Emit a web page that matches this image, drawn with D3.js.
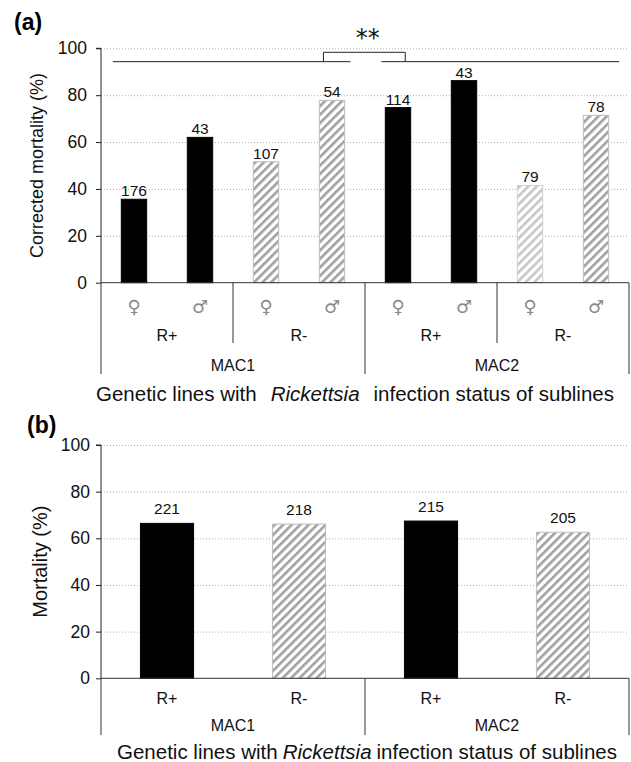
<!DOCTYPE html>
<html>
<head>
<meta charset="utf-8">
<script src="https://cdn.jsdelivr.net/npm/d3@7"></script>
<style>
  body { margin: 0; background: #fff; }
  svg { display: block; font-family: Arial, "Liberation Sans", sans-serif; }
</style>
</head>
<body>
<div id="chart"></div>
<script>
// panel (a): corrected mortality by line, infection status and sex
const linesA = ["MAC1", "MAC1", "MAC1", "MAC1", "MAC2", "MAC2", "MAC2", "MAC2"];
const statusA = ["R+", "R+", "R-", "R-", "R+", "R+", "R-", "R-"];
const sexA = ["♀", "♂", "♀", "♂", "♀", "♂", "♀", "♂"];
const mortalityA = [35.6, 62.0, 51.6, 77.8, 74.7, 86.2, 41.5, 71.4];
const countsA = [176, 43, 107, 54, 114, 43, 79, 78];

// panel (b): mortality by line and infection status
const linesB = ["MAC1", "MAC1", "MAC2", "MAC2"];
const statusB = ["R+", "R-", "R+", "R-"];
const mortalityB = [66.4, 66.1, 67.4, 62.6];
const countsB = [221, 218, 215, 205];

const yTicks = [0, 20, 40, 60, 80, 100];

const W = 631, H = 762;
const x0 = 101, x1 = 629;

const svg = d3.select("#chart").append("svg")
    .attr("width", W)
    .attr("height", H);

// hatch patterns
const defs = svg.append("defs");
function hatch(id, color) {
    const p = defs.append("pattern")
        .attr("id", id)
        .attr("patternUnits", "userSpaceOnUse")
        .attr("width", 6).attr("height", 6)
        .attr("patternTransform", "rotate(45)");
    p.append("rect").attr("width", 6).attr("height", 6).attr("fill", "#fff");
    p.append("rect").attr("x", 0).attr("width", 2.6).attr("height", 6).attr("fill", color);
}
hatch("hatch", "#a0a0a0");
hatch("hatchLight", "#c6c6c6");

function barFill(d) {
    if (d.status === "R+") return "#000";
    return d.light ? "url(#hatchLight)" : "url(#hatch)";
}
function barStroke(d) {
    if (d.status === "R+") return "#000";
    return d.light ? "#d0d0d0" : "#bdbdbd";
}

function drawPanel(opt) {
    const g = svg.append("g");
    const data = opt.values.map((v, i) => ({
        i: i, v: v, n: opt.counts[i], status: opt.status[i], line: opt.lines[i],
        sex: opt.sex ? opt.sex[i] : null,
        light: opt.lines[i] === "MAC2" && opt.status[i] === "R-" && opt.sex && opt.sex[i] === "♀"
    }));

    const x = d3.scaleBand()
        .domain(d3.range(data.length))
        .range([x0, x1])
        .paddingInner(opt.padIn)
        .paddingOuter(opt.padIn / 2);

    const y = d3.scaleLinear().domain([0, 100]).range([opt.yBottom, opt.yTop]);

    // dotted grid
    g.append("g")
        .attr("transform", `translate(${x0},0)`)
        .call(d3.axisLeft(y).tickValues(yTicks.filter(t => t > 0)).tickSize(-(x1 - x0)).tickFormat(""))
        .call(a => a.select(".domain").remove())
        .call(a => a.selectAll("line").attr("stroke", "#b0b0b0").attr("stroke-dasharray", "1,2"));

    // bars
    g.selectAll("rect.bar").data(data).join("rect")
        .attr("class", "bar")
        .attr("x", d => x(d.i) + 0.5)
        .attr("y", d => y(d.v))
        .attr("width", x.bandwidth() - 1)
        .attr("height", d => y(0) - y(d.v))
        .attr("fill", barFill)
        .attr("stroke", barStroke)
        .attr("stroke-width", 1);

    // counts above bars
    g.selectAll("text.count").data(data).join("text")
        .attr("class", "count")
        .attr("x", d => x(d.i) + x.bandwidth() / 2)
        .attr("y", d => y(d.v) - opt.countGap)
        .attr("text-anchor", "middle")
        .attr("font-size", 15.5)
        .attr("fill", "#111")
        .text(d => d.n);

    // y axis
    const ya = g.append("g")
        .attr("transform", `translate(${x0},0)`)
        .call(d3.axisLeft(y).tickValues(yTicks).tickSize(5).tickPadding(opt.tickPad));
    ya.select(".domain").attr("stroke", "#222").attr("d", `M-5,${y(100)}H0V${y(0)}`);
    ya.selectAll("line").attr("stroke", "#222");
    ya.selectAll("text").attr("font-size", 17.5).attr("fill", "#111").attr("font-family", "Arial, 'Liberation Sans', sans-serif");

    // baseline
    g.append("line")
        .attr("x1", x0).attr("x2", x1)
        .attr("y1", y(0)).attr("y2", y(0))
        .attr("stroke", "#333");

    // category axis: group separators
    const groups = d3.groups(data, d => d.line);
    const sepColor = "#333";
    const lineEdges = [x0];
    groups.forEach(([name, rows]) => {
        const last = rows[rows.length - 1];
        lineEdges.push(x(last.i) + x.bandwidth() + x.step() * x.paddingInner() / 2);
    });
    lineEdges[lineEdges.length - 1] = x1;
    g.selectAll("line.linesep").data(lineEdges).join("line")
        .attr("class", "linesep")
        .attr("x1", d => d).attr("x2", d => d)
        .attr("y1", y(0)).attr("y2", opt.lineSepBottom)
        .attr("stroke", sepColor);

    // status separators (only when sex level exists)
    if (opt.sex) {
        const statusEdges = [];
        groups.forEach(([name, rows]) => {
            const sub = d3.groups(rows, d => d.status);
            const firstEnd = sub[0][1][sub[0][1].length - 1];
            statusEdges.push(x(firstEnd.i) + x.bandwidth() + x.step() * x.paddingInner() / 2);
        });
        g.selectAll("line.statsep").data(statusEdges).join("line")
            .attr("class", "statsep")
            .attr("x1", d => d).attr("x2", d => d)
            .attr("y1", y(0)).attr("y2", opt.statusSepBottom)
            .attr("stroke", sepColor);

        g.selectAll("text.sex").data(data).join("text")
            .attr("class", "sex")
            .attr("x", d => x(d.i) + x.bandwidth() / 2)
            .attr("y", opt.sexY)
            .attr("text-anchor", "middle")
            .attr("font-family", "'DejaVu Sans', sans-serif")
            .attr("font-size", 18)
            .attr("fill", "#8a8a8a")
            .text(d => d.sex);
    }

    // status labels
    const statusLabels = [];
    groups.forEach(([name, rows]) => {
        d3.groups(rows, d => d.status).forEach(([s, r]) => {
            statusLabels.push({ s: s, cx: (x(r[0].i) + x(r[r.length - 1].i) + x.bandwidth()) / 2 });
        });
    });
    g.selectAll("text.status").data(statusLabels).join("text")
        .attr("class", "status")
        .attr("x", d => d.cx)
        .attr("y", opt.statusY)
        .attr("text-anchor", "middle")
        .attr("font-size", 16)
        .attr("fill", "#111")
        .text(d => d.s);

    // line labels
    g.selectAll("text.line").data(groups).join("text")
        .attr("class", "line")
        .attr("x", (d, k) => (lineEdges[k] + lineEdges[k + 1]) / 2)
        .attr("y", opt.lineY)
        .attr("text-anchor", "middle")
        .attr("font-size", 16)
        .attr("fill", "#111")
        .text(d => d[0]);

    // x title
    const t = g.append("text")
        .attr("x", opt.titleX)
        .attr("y", opt.titleY)
        .attr("font-size", 20.5)
        .attr("fill", "#111");
    t.append("tspan").text("Genetic lines with");
    t.append("tspan").attr("dx", opt.titleGap).attr("font-style", "italic").text("Rickettsia");
    t.append("tspan").attr("dx", opt.titleGap).text("infection status of sublines");

    // y title
    g.append("text")
        .attr("transform", `translate(${opt.yTitleX},${(y(0) + y(100)) / 2}) rotate(-90)`)
        .attr("text-anchor", "middle")
        .attr("dominant-baseline", "central")
        .attr("font-size", opt.yTitleSize)
        .attr("fill", "#111")
        .text(opt.yTitle);

    // panel letter
    g.append("text")
        .attr("x", opt.letterX)
        .attr("y", opt.letterY)
        .attr("font-size", 23)
        .attr("font-weight", "bold")
        .attr("fill", "#000")
        .text(opt.letter);

    return { g: g, x: x, y: y };
}

const pa = drawPanel({
    values: mortalityA, counts: countsA, status: statusA, lines: linesA, sex: sexA,
    padIn: 0.6, yTop: 48.3, yBottom: 282.7, countGap: 3, tickPad: 9,
    lineSepBottom: 374, statusSepBottom: 343, sexY: 313, statusY: 341, lineY: 371,
    titleX: 96, titleY: 401, titleGap: 14,
    yTitleX: 37, yTitleSize: 18, yTitle: "Corrected mortality (%)",
    letter: "(a)", letterX: 14, letterY: 30
});

drawPanel({
    values: mortalityB, counts: countsB, status: statusB, lines: linesB, sex: null,
    padIn: 0.59, yTop: 445, yBottom: 678.3, countGap: 9, tickPad: 6,
    lineSepBottom: 735, sexY: 0, statusY: 704, lineY: 731,
    titleX: 117, titleY: 759, titleGap: 5,
    yTitleX: 40, yTitleSize: 20, yTitle: "Mortality (%)",
    letter: "(b)", letterX: 27, letterY: 433
});

// significance annotation over panel (a)
const sigLine = 94.3, sigTop = 98.3, sigStar = 104.3;
const xi = d3.scaleLinear().domain([0, 8]).range([x0, x1]);
const ann = pa.g.append("g").attr("stroke", "#222").attr("fill", "none");
ann.append("line").attr("x1", xi(0.18)).attr("x2", xi(3.78)).attr("y1", pa.y(sigLine)).attr("y2", pa.y(sigLine));
ann.append("line").attr("x1", xi(4.25)).attr("x2", xi(7.85)).attr("y1", pa.y(sigLine)).attr("y2", pa.y(sigLine));
ann.append("path")
    .attr("d", `M${xi(3.37)},${pa.y(sigLine)}V${pa.y(sigTop)}H${xi(4.61)}V${pa.y(sigLine)}`);
pa.g.append("text")
    .attr("x", xi(4.04))
    .attr("y", pa.y(sigStar))
    .attr("text-anchor", "middle")
    .attr("dominant-baseline", "central")
    .attr("font-size", 24)
    .attr("font-family", "'DejaVu Sans', sans-serif")
    .attr("fill", "#111")
    .text("**");
</script>
</body>
</html>
